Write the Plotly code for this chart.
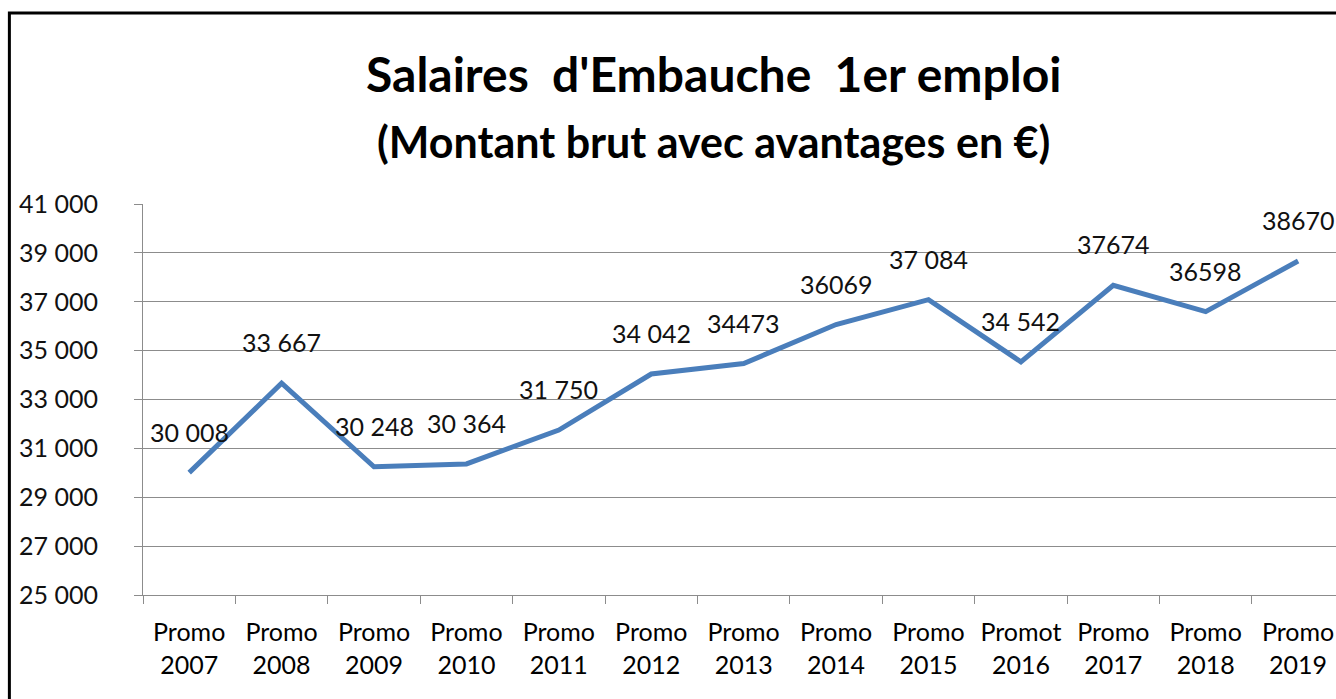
import plotly.graph_objects as go

categories = ["Promo<br>2007", "Promo<br>2008", "Promo<br>2009", "Promo<br>2010", "Promo<br>2011",
              "Promo<br>2012", "Promo<br>2013", "Promo<br>2014", "Promo<br>2015", "Promot<br>2016",
              "Promo<br>2017", "Promo<br>2018", "Promo<br>2019"]
salaries = [30008, 33667, 30248, 30364, 31750, 34042, 34473, 36069, 37084, 34542, 37674, 36598, 38670]
value_labels = ["30 008", "33 667", "30 248", "30 364", "31 750", "34 042", "34473", "36069",
                "37 084", "34 542", "37674", "36598", "38670"]
y_tickvals = [25000, 27000, 29000, 31000, 33000, 35000, 37000, 39000, 41000]
y_ticktext = ["25 000", "27 000", "29 000", "31 000", "33 000", "35 000", "37 000", "39 000", "41 000"]
title_line1 = "Salaires  d'Embauche  1er emploi"
title_line2 = "(Montant brut avec avantages en €)"

FONT = "Lato"
GRID = "#8c8c8c"

fig = go.Figure()
fig.add_trace(go.Scatter(
    x=categories, y=salaries, mode="lines",
    line=dict(color="#4A7EBB", width=5),
    hoverinfo="skip", showlegend=False,
))

for c, v, t in zip(categories, salaries, value_labels):
    fig.add_annotation(x=c, y=v, text=t, showarrow=False, yshift=41, yanchor="middle",
                       font=dict(family=FONT, size=25, color="#111"))

fig.add_annotation(xref="paper", yref="paper", x=0.478, y=1.333, text="<b>" + title_line1 + "</b>",
                   showarrow=False, xanchor="center", yanchor="middle",
                   font=dict(family=FONT, size=48, color="#000"))
fig.add_annotation(xref="paper", yref="paper", x=0.478, y=1.159, text="<b>" + title_line2 + "</b>",
                   showarrow=False, xanchor="center", yanchor="middle",
                   font=dict(family=FONT, size=43, color="#000"))

# outer frame
fig.add_shape(type="rect", xref="paper", yref="paper", x0=-0.112, x1=1.2, y0=-0.5, y1=1.4885,
              line=dict(color="#000", width=3), layer="above")

fig.update_xaxes(
    range=[-0.5, 12.41], tickson="boundaries", ticks="outside", ticklen=8, tickcolor=GRID,
    showline=True, linecolor=GRID, linewidth=1, showgrid=False, zeroline=False,
    tickfont=dict(family=FONT, size=25, color="#000"), ticklabelstandoff=15,
)
fig.update_yaxes(
    range=[25000, 41000], tickvals=y_tickvals, ticktext=y_ticktext,
    ticks="outside", ticklen=8, tickcolor=GRID, showline=True, linecolor=GRID, linewidth=1,
    showgrid=True, gridcolor=GRID, gridwidth=1, zeroline=False,
    tickfont=dict(family=FONT, size=25, color="#111"), ticklabelstandoff=31,
)
fig.update_layout(
    width=1336, height=699, paper_bgcolor="white", plot_bgcolor="white",
    margin=dict(l=143, r=0, t=204, b=104),
)
fig.write_html("out.html", config={"displayModeBar": False},
               post_script="document.body.style.margin='0px';")
